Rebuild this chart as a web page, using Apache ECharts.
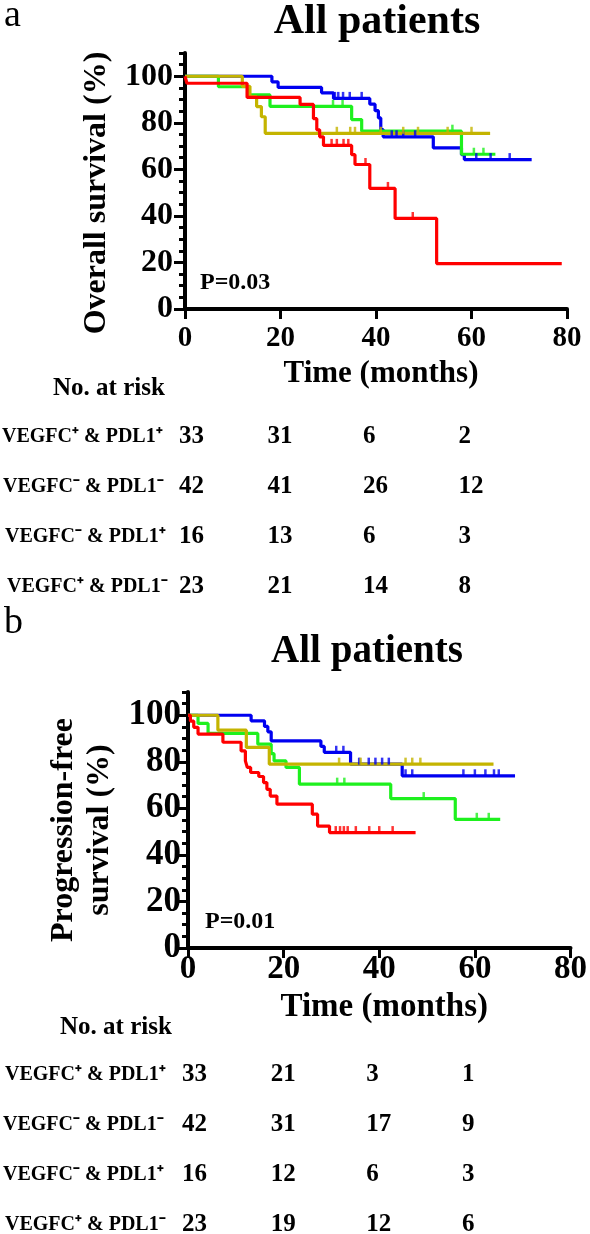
<!DOCTYPE html>
<html><head><meta charset="utf-8">
<script src="https://cdn.jsdelivr.net/npm/echarts@6/dist/echarts.min.js"></script>
<style>html,body{margin:0;padding:0;background:#fff}#c{width:590px;height:1234px}</style>
</head><body><div id="c"></div>
<script>
// ---------- data ----------
const xTicks = [0, 20, 40, 60, 80];
const yTicks = [0, 20, 40, 60, 80, 100];
const groups = ['VEGFC\u207A & PDL1\u207A', 'VEGFC\u207B & PDL1\u207B', 'VEGFC\u207B & PDL1\u207A', 'VEGFC\u207A & PDL1\u207B'];
const riskTimes = [0, 20, 40, 60];
const osRisk = [[33, 31, 6, 2], [42, 41, 26, 12], [16, 13, 6, 3], [23, 21, 14, 8]];
const pfsRisk = [[33, 21, 3, 1], [42, 31, 17, 9], [16, 12, 6, 3], [23, 19, 12, 6]];

// Overall survival (panel a)
const osRedT = [0, 0.4, 13.0, 24.1, 26.9, 27.6, 28.2, 29.0, 34.9, 35.6, 38.7, 44.0, 52.7, 78.9];
const osRedV = [100, 97.0, 90.9, 87.9, 81.8, 77.0, 74.0, 70.3, 66.3, 62.1, 51.8, 38.9, 19.5, 19.5];
const osRedC = [30.7, 31.8, 33.2, 34.2, 37.8, 42.5, 47.7];
const osBlueT = [0, 18.2, 19.5, 28.6, 31.1, 38.7, 39.8, 40.5, 41.0, 41.5, 52.0, 57.9, 58.5, 72.6];
const osBlueV = [100, 97.6, 95.2, 92.9, 90.5, 88.0, 85.2, 82.1, 77.1, 74.0, 69.2, 66.3, 64.2, 64.2];
const osBlueC = [31.4, 32.1, 33.1, 34.5, 37.0, 43.3, 44.3, 45.7, 48.2, 61.0, 64.0, 68.0];
const osGreenT = [0, 7.0, 13.2, 17.8, 34.9, 37.0, 57.9, 65.0];
const osGreenV = [100, 95.5, 92.0, 87.1, 81.4, 76.4, 66.5, 66.5];
const osGreenC = [31.0, 33.0, 56.0, 60.5, 62.5];
const osOliveT = [0, 12.0, 13.6, 15.0, 16.0, 16.8, 63.9];
const osOliveV = [100, 95.7, 91.3, 87.0, 82.6, 75.5, 75.5];
const osOliveC = [31.8, 34.6, 35.6, 41.0, 45.7, 48.8, 55.0, 60.0];

// Progression-free survival (panel b)
const pfsRedT = [0, 0.5, 1.2, 2.1, 7.3, 11.1, 12.0, 12.4, 13.1, 14.8, 15.8, 16.5, 17.2, 18.6, 26.0, 27.1, 29.6, 47.6];
const pfsRedV = [100, 97.5, 94.8, 91.9, 88.4, 84.7, 80.4, 77.6, 75.4, 73.7, 71.1, 68.2, 65.3, 61.8, 57.5, 52.4, 49.6, 49.6];
const pfsRedC = [30.9, 31.8, 32.6, 33.4, 35.1, 37.9, 40.0, 42.8];
const pfsBlueT = [0, 13.2, 16.0, 16.7, 17.4, 27.8, 28.5, 34.0, 44.8, 68.4];
const pfsBlueV = [100, 97.6, 95.2, 92.9, 89.0, 86.6, 84.1, 79.0, 74.0, 74.0];
const pfsBlueC = [31.0, 32.5, 35.8, 37.8, 39.2, 40.6, 42.0, 45.5, 46.9, 57.6, 60.0, 62.2, 64.0, 65.0];
const pfsGreenT = [0, 2.1, 4.2, 14.6, 17.4, 18.0, 20.5, 23.3, 42.4, 55.9, 65.3];
const pfsGreenV = [100, 96.5, 92.2, 87.6, 83.5, 80.4, 77.6, 70.4, 64.2, 55.3, 55.3];
const pfsGreenC = [31.2, 32.7, 49.3, 60.4, 62.9];
const pfsOliveT = [0, 6.25, 12.2, 17.0, 63.9];
const pfsOliveV = [100, 93.6, 86.2, 79.0, 79.0];
const pfsOliveC = [31.6, 36.1, 45.5, 46.9, 48.6];

// ---------- styling ----------
const FONT = '"Times New Roman","Liberation Serif",serif';
const COL = { red: '#ff0000', blue: '#0000f0', green: '#1ef01e', olive: '#c4b400' };

function survAt(T, V, t) {
  let v = V[0];
  for (let i = 0; i < T.length; i++) if (T[i] <= t) v = V[i];
  return v;
}
function curve(name, T, V, C, color, xi, yi) {
  return [
    { name: name, type: 'line', step: 'end', xAxisIndex: xi, yAxisIndex: yi,
      data: T.map((t, i) => [t, V[i]]), showSymbol: false, symbol: 'none',
      lineStyle: { color: color, width: 3.2 }, itemStyle: { color: color }, z: 3 },
    { name: name + ' censored', type: 'scatter', xAxisIndex: xi, yAxisIndex: yi,
      data: C.map(t => [t, survAt(T, V, t)]), symbol: 'rect', symbolSize: [2.5, 7],
      symbolOffset: [0, -3], itemStyle: { color: color }, z: 3 }
  ];
}
function xAxisCfg(grid, fs, margin, nameFs, gap) {
  return {
    type: 'value', gridIndex: grid, min: 0, max: 80, interval: 20,
    axisLine: { show: true, onZero: false, lineStyle: { color: '#000', width: 4 } },
    axisTick: { show: true, length: 10, lineStyle: { color: '#000', width: 3 } },
    splitLine: { show: false },
    axisLabel: { fontFamily: FONT, fontWeight: 'bold', fontSize: fs, color: '#000', margin: margin,
      formatter: v => (xTicks.indexOf(v) >= 0 ? String(v) : '') },
    name: 'Time (months)', nameLocation: 'middle', nameGap: gap,
    nameTextStyle: { fontFamily: FONT, fontWeight: 'bold', fontSize: nameFs, color: '#000', padding: [0, 0, 0, 10] }
  };
}
function yMajor(grid, fs, margin, name, gap, nameFs, pad, lh) {
  return {
    type: 'value', gridIndex: grid, min: 0, max: 110, interval: 10, position: 'left',
    axisLine: { show: true, onZero: false, lineStyle: { color: '#000', width: 4 } },
    axisTick: { show: true, length: 11, customValues: yTicks, lineStyle: { color: '#000', width: 3 } },
    splitLine: { show: false },
    axisLabel: { customValues: yTicks, fontFamily: FONT, fontWeight: 'bold', fontSize: fs, color: '#000', margin: margin },
    name: name, nameLocation: 'middle', nameGap: gap,
    nameTextStyle: { fontFamily: FONT, fontWeight: 'bold', fontSize: nameFs, color: '#000', padding: pad, lineHeight: lh, align: 'center' }
  };
}
function yMinor(grid) {
  return {
    type: 'value', gridIndex: grid, min: 0, max: 110, interval: 5, position: 'left', offset: 0,
    axisLine: { show: false },
    axisTick: { show: true, length: 6, lineStyle: { color: '#000', width: 3 } },
    axisLabel: { show: false }, splitLine: { show: false }
  };
}

const chart = echarts.init(document.getElementById('c'), null, { renderer: 'canvas' });
const series = [].concat(
  curve('VEGFC\u207B & PDL1\u207B OS', osBlueT, osBlueV, osBlueC, COL.blue, 0, 0),
  curve('VEGFC\u207B & PDL1\u207A OS', osGreenT, osGreenV, osGreenC, COL.green, 0, 0),
  curve('VEGFC\u207A & PDL1\u207B OS', osOliveT, osOliveV, osOliveC, COL.olive, 0, 0),
  curve('VEGFC\u207A & PDL1\u207A OS', osRedT, osRedV, osRedC, COL.red, 0, 0),
  curve('VEGFC\u207B & PDL1\u207B PFS', pfsBlueT, pfsBlueV, pfsBlueC, COL.blue, 1, 2),
  curve('VEGFC\u207B & PDL1\u207A PFS', pfsGreenT, pfsGreenV, pfsGreenC, COL.green, 1, 2),
  curve('VEGFC\u207A & PDL1\u207B PFS', pfsOliveT, pfsOliveV, pfsOliveC, COL.olive, 1, 2),
  curve('VEGFC\u207A & PDL1\u207A PFS', pfsRedT, pfsRedV, pfsRedC, COL.red, 1, 2)
);

chart.setOption({
  animation: false,
  backgroundColor: '#fff',
  title: [
    { text: 'All patients', left: 372, top: -4, textAlign: 'center',
      textStyle: { fontFamily: FONT, fontWeight: 'bold', fontSize: 42, color: '#000' } },
    { text: 'All patients', left: 362, top: 627, textAlign: 'center',
      textStyle: { fontFamily: FONT, fontWeight: 'bold', fontSize: 39, color: '#000' } }
  ],
  grid: [
    { left: 185, right: 23, top: 53, height: 256 },
    { left: 188, right: 18, top: 692, height: 256 }
  ],
  xAxis: [xAxisCfg(0, 29, 15, 31, 49), xAxisCfg(1, 33, 5, 33, 43)],
  yAxis: [
    yMajor(0, 32, 12, 'Overall survival (%)', 66, 32, [0, 24, 0, 0], 34),
    yMinor(0),
    yMajor(1, 35, 7, 'Progression-free\nsurvival (%)', 64, 32, [0, 20, 0, 0], 36),
    yMinor(1)
  ],
  series: series
});

function buildGraphics() {
  const g = [];
  const txt = (x, y, s, fs, weight, align, vAlign) => ({
    type: 'text', x: x, y: y, silent: true,
    style: { text: s, fontFamily: FONT, fontSize: fs, fontWeight: weight || 'bold', fill: '#000',
      textAlign: align || 'left', textVerticalAlign: vAlign || 'middle' }
  });
  g.push(txt(4, 16, 'a', 38, 'normal'));
  g.push(txt(4, 623, 'b', 38, 'normal'));
  g.push(txt(200, 283, 'P=0.03', 24));
  g.push(txt(205, 922, 'P=0.01', 24));
  const tables = [
    { xi: 0, head: 389, headX: 53, rows: [437, 487, 537, 587], lx: [2, 3, 5, 7], data: osRisk },
    { xi: 1, head: 1028, headX: 60, rows: [1075, 1125, 1175, 1225], lx: [5, 3, 3, 5], data: pfsRisk }
  ];
  tables.forEach(tb => {
    g.push(txt(tb.headX, tb.head, 'No. at risk', 25));
    tb.rows.forEach((ry, r) => {
      g.push(txt(tb.lx[r], ry, groups[r], 20));
      riskTimes.forEach((t, c) => {
        const px = chart.convertToPixel({ xAxisIndex: tb.xi }, t);
        g.push(txt(px - (c === 0 ? 6 : 13), ry, String(tb.data[r][c]), 25));
      });
    });
  });
  chart.setOption({ graphic: g });
}
buildGraphics();
</script></body></html>
